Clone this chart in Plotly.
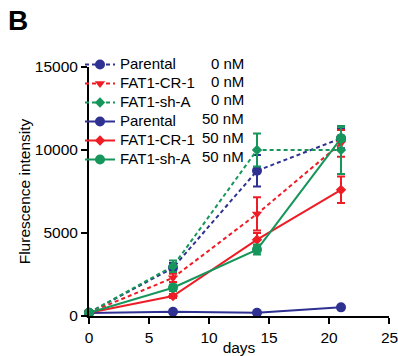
import plotly.graph_objects as go

days = [0, 7, 14, 21]
names = ["Parental", "FAT1-CR-1", "FAT1-sh-A", "Parental", "FAT1-CR-1", "FAT1-sh-A"]
doses = ["0 nM", "0 nM", "0 nM", "50 nM", "50 nM", "50 nM"]
values = [
    [200, 2900, 8750, 10700],
    [200, 2300, 6150, 10400],
    [200, 3000, 10000, 10000],
    [180, 260, 200, 520],
    [200, 1200, 4600, 7600],
    [200, 1700, 4000, 10700],
]
errors = [
    [60, 300, 950, 600],
    [60, 250, 1000, 800],
    [60, 350, 1000, 1450],
    [30, 60, 50, 60],
    [50, 120, 400, 800],
    [50, 200, 300, 700],
]
y_ticks = [0, 5000, 10000, 15000]
x_ticks = [0, 5, 10, 15, 20, 25]
x_tick_text = ["0", "5", "10", "15", "20", ""]

BLUE = "#2e3192"
RED = "#ee1c25"
GREEN = "#16965a"
colors = [BLUE, RED, GREEN, BLUE, RED, GREEN]
dashes = ["4px,3px", "4px,3px", "4px,3px", "solid", "solid", "solid"]
symbols = ["circle", "triangle-down", "diamond", "circle", "diamond", "circle"]
msizes = [10, 9, 8, 10, 8, 10]

L, R, T, B = 89, 9, 67, 40
PW, PH = 398 - L - R, 356 - T - B


def px_x(p):
    return (p - L) / PW


def px_y(p):
    return (356 - B - p) / PH


fig = go.Figure()
for i in range(6):
    fig.add_trace(go.Scatter(
        x=days, y=values[i],
        name='<span style="font-size:15px">' + names[i] + "</span>",
        mode="lines+markers",
        line=dict(color=colors[i], width=2, dash=dashes[i]),
        marker=dict(color=colors[i], symbol=symbols[i], size=msizes[i]),
        error_y=dict(type="data", array=errors[i], color=colors[i], thickness=2, width=4),
        cliponaxis=False,
    ))

row_y = [63, 81, 99, 118, 137, 156]
annotations = []
for i in range(6):
    annotations.append(dict(
        x=px_x(246), y=px_y(row_y[i]), xref="paper", yref="paper",
        text=doses[i], showarrow=False, xanchor="right", yanchor="middle",
        font=dict(size=15, color="black"),
    ))
annotations.append(dict(x=25, y=0, xref="x", yref="y", text="25", showarrow=False,
                        xanchor="center", yanchor="middle", yshift=-21,
                        font=dict(size=15.5, color="black")))
annotations.append(dict(x=px_x(6), y=px_y(20), xref="paper", yref="paper",
                        text="<b>B</b>", showarrow=False, xanchor="left", yanchor="middle",
                        font=dict(size=28, color="black")))

fig.update_layout(
    width=398, height=356,
    margin=dict(l=L, r=R, t=T, b=B, autoexpand=False),
    paper_bgcolor="white", plot_bgcolor="white",
    font=dict(family="Liberation Sans, Arial, sans-serif", color="black"),
    showlegend=True,
    legend=dict(x=px_x(80), y=px_y(50), xanchor="left", yanchor="top",
                bgcolor="rgba(0,0,0,0)", font=dict(size=12),
                itemwidth=30, tracegroupgap=0),
    annotations=annotations,
    xaxis=dict(range=[0, 25], tickvals=x_ticks, ticktext=x_tick_text,
               showline=True, linecolor="black", linewidth=2, ticks="outside",
               ticklen=6, tickwidth=2, tickcolor="black", showgrid=False, zeroline=False,
               tickfont=dict(size=15.5), automargin=False,
               title=dict(text="days", font=dict(size=15.5), standoff=2)),
    yaxis=dict(range=[0, 15000], tickvals=y_ticks, tickformat="d",
               showline=True, linecolor="black", linewidth=2, ticks="outside",
               ticklen=6, tickwidth=2, tickcolor="black", showgrid=False, zeroline=False,
               tickfont=dict(size=15.5), automargin=False,
               title=dict(text="Flurescence intensity", font=dict(size=15.5), standoff=0)),
)

fig.write_html("out.html", config={"displayModeBar": False},
               post_script="document.body.style.margin='0px';")
